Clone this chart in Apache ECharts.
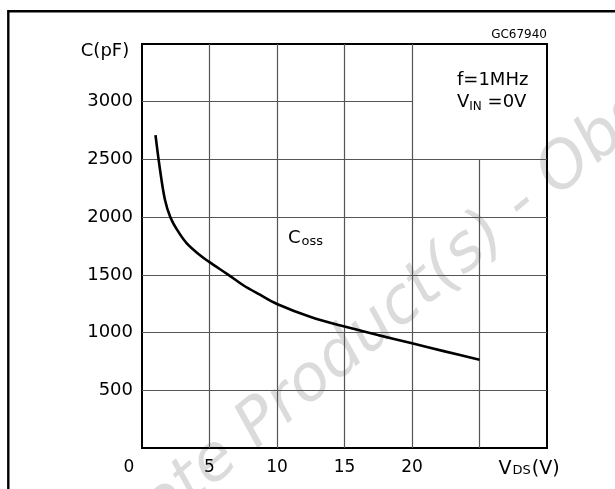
<!DOCTYPE html>
<html>
<head>
<meta charset="utf-8">
<script src="https://cdn.jsdelivr.net/npm/echarts@6/dist/echarts.min.js"></script>
<style>html,body{margin:0;padding:0;background:#fff}#c{width:615px;height:489px}</style>
</head>
<body>
<div id="c"></div>
<script>
// Data (C_oss vs V_DS)
var vds = [1.0, 1.3, 1.7, 2.1, 2.6, 3.3, 4.3, 5.0, 6.4, 7.5, 8.7, 10.0, 12.5, 15.0, 17.5, 20.0, 22.5, 25.0];
var coss = [2710, 2440, 2150, 2000, 1890, 1775, 1670, 1610, 1500, 1410, 1330, 1248, 1135, 1052, 978, 908, 835, 765];
var xTickLabels = [0, 5, 10, 15, 20];
var yTickLabels = [500, 1000, 1500, 2000, 2500, 3000];
var xGridFull = [5, 10, 15, 20];
var yGridFull = [500, 1000, 1500, 2000, 2500];

var FONT = 'DejaVu Sans';
var chart = echarts.init(document.getElementById('c'), null, {renderer: 'canvas'});

var gridLines = [];
xGridFull.forEach(function (x) { gridLines.push([{coord: [x, 0]}, {coord: [x, 3500]}]); });
gridLines.push([{coord: [25, 0]}, {coord: [25, 2500]}]);
yGridFull.forEach(function (y) { gridLines.push([{coord: [0, y]}, {coord: [30, y]}]); });
gridLines.push([{coord: [0, 3000]}, {coord: [20, 3000]}]);

// watermark placement (measured so that the hyphen sits where the reference shows it)
var wmFont = 'italic 64px "DejaVu Sans"';
var wmText = 'Obsolete Product(s) - Obsolete Product(s)';
var cv = document.createElement('canvas').getContext('2d');
cv.font = wmFont;
var offs = cv.measureText('Obsolete Product(s) ').width + cv.measureText('-').width / 2;
var ang = 40 * Math.PI / 180;
var hx = 522, hy = 205;
var wmX = hx - offs * Math.cos(ang), wmY = hy + offs * Math.sin(ang);

var option = {
  animation: false,
  backgroundColor: '#fff',
  grid: {left: 142, right: 68, top: 44, bottom: 41, show: true, borderColor: '#000', borderWidth: 2, backgroundColor: 'transparent'},
  xAxis: {
    type: 'value', min: 0, max: 30, interval: 5,
    axisLine: {show: false}, axisTick: {show: false}, splitLine: {show: false},
    axisLabel: {
      margin: 11, color: '#000', fontFamily: FONT, fontSize: 17,
      formatter: function (v) {
        if (xTickLabels.indexOf(v) < 0) return '';
        if (v === 0) return '{z|0}';
        return String(v);
      },
      rich: {z: {fontFamily: FONT, fontSize: 17, color: '#000', padding: [0, 26, 0, 0]}}
    }
  },
  yAxis: {
    type: 'value', min: 0, max: 3500, interval: 500,
    axisLine: {show: false}, axisTick: {show: false}, splitLine: {show: false},
    axisLabel: {
      margin: 9, color: '#000', fontFamily: FONT, fontSize: 18,
      formatter: function (v) { return yTickLabels.indexOf(v) < 0 ? '' : String(v); }
    }
  },
  series: [{
    type: 'line',
    data: vds.map(function (x, i) { return [x, coss[i]]; }),
    smooth: 0.35,
    showSymbol: false,
    lineStyle: {color: '#000', width: 2.6},
    z: 5,
    markLine: {
      silent: true, symbol: 'none', animation: false,
      label: {show: false},
      lineStyle: {color: '#555', width: 1.2, type: 'solid'},
      data: gridLines
    }
  }],
  graphic: [
    {type: 'text', x: wmX, y: wmY, z: -10, rotation: ang, silent: true,
     style: {text: wmText, font: wmFont, fill: 'rgba(0,0,0,0.14)', textAlign: 'left', textVerticalAlign: 'middle'}},
    {type: 'rect', left: 7 - 1.2, top: 10 - 1.2, z: 100, silent: true,
     shape: {x: 0, y: 0, width: 700, height: 600},
     style: {fill: 'none', stroke: '#000', lineWidth: 2.4}},
    {type: 'text', x: 105, y: 51, z: 50,
     style: {text: 'C(pF)', font: '18px "' + FONT + '"', fill: '#000', textAlign: 'center', textVerticalAlign: 'middle'}},
    {type: 'text', x: 547, y: 35, z: 50,
     style: {text: 'GC67940', font: '12px "' + FONT + '"', fill: '#000', textAlign: 'right', textVerticalAlign: 'middle'}},
    {type: 'text', x: 457, y: 80, z: 50,
     style: {text: 'f=1MHz', font: '18px "' + FONT + '"', fill: '#000', textAlign: 'left', textVerticalAlign: 'middle'}},
    {type: 'text', x: 457, y: 102, z: 50,
     style: {text: 'V{s|IN} =0V', font: '18px "' + FONT + '"', fill: '#000', textAlign: 'left', textVerticalAlign: 'middle',
       rich: {s: {fontSize: 12, fontFamily: FONT, fill: '#000', padding: [10, 0, 0, 0]}}}},
    {type: 'text', x: 288, y: 238, z: 50,
     style: {text: 'C{s|oss}', font: '18px "' + FONT + '"', fill: '#000', textAlign: 'left', textVerticalAlign: 'middle',
       rich: {s: {fontSize: 13, fontFamily: FONT, fill: '#000', padding: [8, 0, 0, 1]}}}},
    {type: 'text', x: 529, y: 469, z: 50,
     style: {text: 'V{s|DS}(V)', font: '19px "' + FONT + '"', fill: '#000', textAlign: 'center', textVerticalAlign: 'middle',
       rich: {s: {fontSize: 13, fontFamily: FONT, fill: '#000', padding: [4, 1, 0, 1]}}}}
  ]
};
chart.setOption(option);
</script>
</body>
</html>
